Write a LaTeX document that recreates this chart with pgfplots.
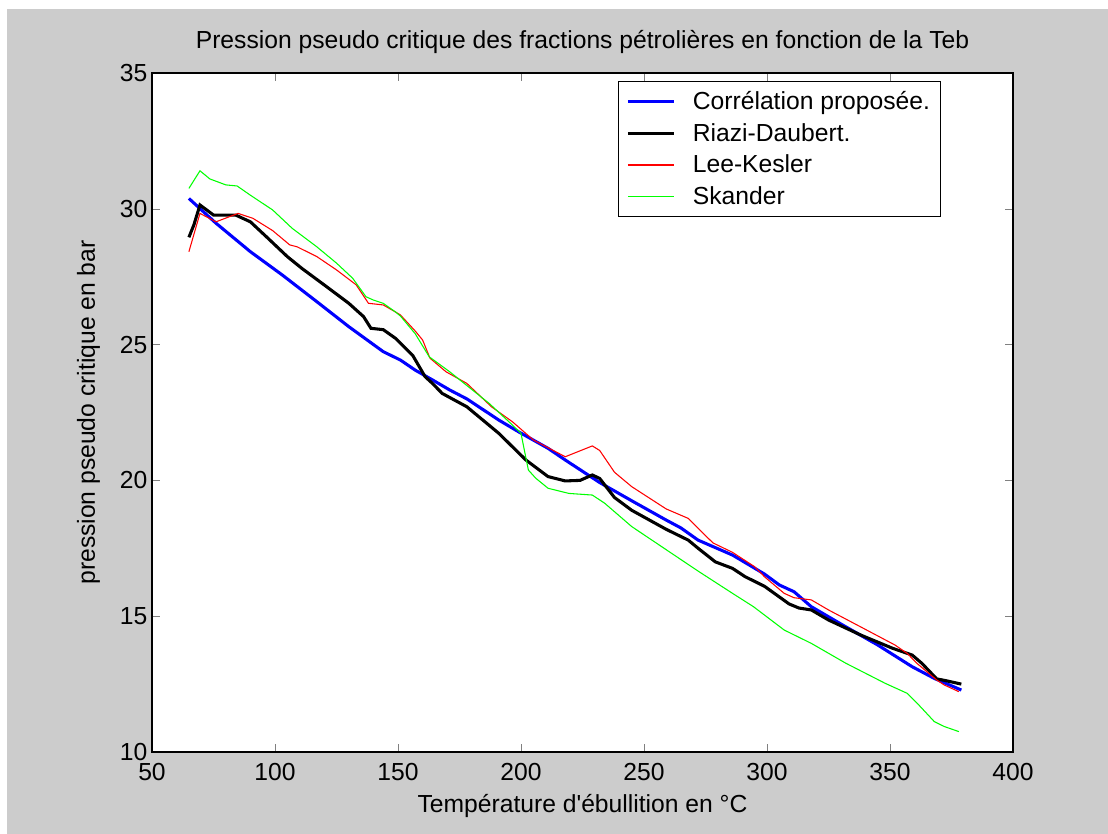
\documentclass[border=0pt]{standalone}
\usepackage{fontspec}
\setmainfont{Liberation Sans}
\usepackage{pgfplots}
\pgfplotsset{compat=1.18}
\definecolor{bggray}{RGB}{204,204,204}
\definecolor{mblue}{RGB}{0,0,255}
\definecolor{mred}{RGB}{255,0,0}
\definecolor{mgreen}{RGB}{0,255,0}
\begin{document}
\begin{tikzpicture}
\fill[white] (0pt,0pt) rectangle (831pt,625.5pt);
\fill[bggray] (5.25pt,0pt) rectangle (831pt,618.75pt);
\begin{axis}[
  at={(114pt,61.5pt)}, anchor=south west,
  scale only axis, width=645.75pt, height=509.25pt,
  xmin=50, xmax=400, ymin=10, ymax=35,
  xtick={50,100,...,400}, ytick={10,15,...,35},
  tick align=inside, major tick length=6pt,
  axis line style={line width=1pt},
  axis background/.style={fill=white},
  font=\fontsize{18.5}{22}\selectfont,
  /pgf/number format/assume math mode=true,
  ticklabel style={font=\fontsize{18.5}{22}\selectfont},
  xticklabel style={yshift=-5pt},
  title={Pression pseudo critique des fractions pétrolières en fonction de la Teb},
  title style={at={(0.5,1)}, anchor=south, yshift=5pt},
  xlabel={Température d{\addfontfeatures{Ligatures=TeXOff}'}ébullition en °C},
  ylabel={pression pseudo critique en bar},
  xlabel style={yshift=-3pt},
  ylabel style={yshift=8pt},
  legend style={at={(0.541,0.988)}, anchor=north west, draw=black, fill=white,
    font=\fontsize{18.5}{22}\selectfont, inner xsep=6pt, inner ysep=3pt,
    nodes={inner xsep=1.6pt, inner ysep=4.4pt}, line width=0.8pt},
  legend cell align=left,
  legend image code/.code={\draw[#1] (0pt,0pt) -- (34.5pt,0pt);},
  /tikz/every odd column/.append style={column sep=11.5pt},
]
\addplot[mblue, line width=2.3pt] coordinates {
(65,30.38) (76,29.47) (90,28.42) (103,27.56) (117,26.58) (130,25.66) (144,24.74)
(151,24.43) (157,24.06) (164,23.7) (171,23.33) (178,23.0) (191,22.22) (199,21.79)
(211,21.18) (218,20.75) (232,19.92) (245,19.25) (259,18.54) (265,18.25) (272,17.8)
(286,17.25) (299,16.55) (305,16.15) (311,15.9) (318,15.35) (332,14.61) (345,13.94)
(359,13.14) (368,12.71) (379,12.28)};
\addlegendentry{Corrélation proposée.}
\addplot[black, line width=2.3pt] coordinates {
(65,28.95) (67,29.4) (69.5,30.14) (75,29.77) (84,29.77) (90,29.52) (96.5,28.97)
(105,28.24) (111,27.8) (121,27.13) (130,26.52) (136,26.03) (139,25.6) (144,25.55)
(149,25.23) (156,24.6) (161,23.82) (164,23.57) (168,23.2) (178,22.71) (191,21.73)
(202,20.75) (211,20.14) (218,19.98) (224,20.0) (229,20.2) (232,20.07) (238,19.37)
(245,18.9) (259,18.2) (268,17.8) (272,17.5) (279,17.0) (286,16.76) (291,16.46)
(299,16.1) (309,15.45) (313,15.3) (318,15.23) (325,14.86) (338,14.31) (351,13.82)
(359,13.57) (363,13.26) (369,12.69) (372,12.64) (379,12.5)};
\addlegendentry{Riazi-Daubert.}
\addplot[mred, line width=0.8pt] coordinates {
(65,28.42) (69.5,29.83) (76,29.52) (85,29.83) (91,29.65) (99,29.2) (106,28.67)
(109,28.6) (117,28.24) (125,27.75) (133,27.2) (138,26.52) (144,26.46) (149,26.2)
(151,26.09) (157,25.5) (160,25.17) (163,24.5) (169.5,24.0) (178,23.57) (188,22.71)
(196.5,22.16) (205,21.49) (218,20.87) (229,21.27) (232,21.1) (238,20.3) (245,19.77)
(259,18.95) (268,18.6) (278,17.7) (286,17.35) (295,16.82) (299,16.45) (307,15.84)
(311,15.68) (318,15.6) (325,15.23) (338,14.61) (352,13.94) (357,13.63) (361,13.26)
(369,12.65) (372,12.47) (378,12.22)};
\addlegendentry{Lee-Kesler}
\addplot[mgreen, line width=0.8pt] coordinates {
(65,30.75) (69.5,31.4) (73.5,31.1) (80,30.88) (84.6,30.84) (90,30.5) (99,29.96)
(107,29.28) (117,28.6) (125,28.0) (131.6,27.44) (137,26.76) (140,26.64) (144,26.52)
(149,26.2) (151,26.05) (157,25.4) (162.7,24.55) (171,24.0) (187,22.84) (196.5,22.04)
(200,21.73) (203,20.38) (206,20.08) (211,19.71) (219.5,19.52) (229,19.46) (234,19.16)
(245,18.3) (259,17.45) (272,16.66) (286,15.84) (294.5,15.35) (307,14.49) (318,14.0)
(332,13.27) (348,12.53) (357,12.16) (361,11.8) (368,11.12) (372,10.94) (378,10.75)};
\addlegendentry{Skander}
\end{axis}
\end{tikzpicture}
\end{document}
